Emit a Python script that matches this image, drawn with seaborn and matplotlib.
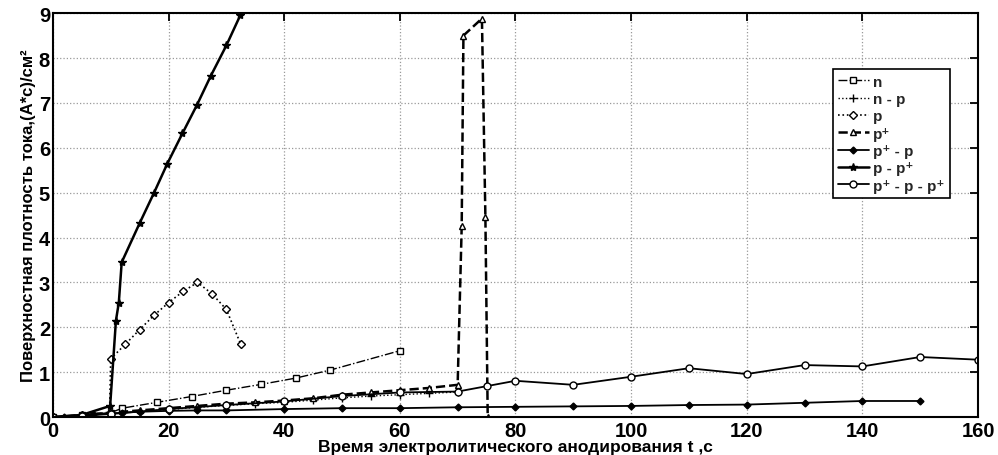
import matplotlib
matplotlib.use("Agg")
import matplotlib.pyplot as plt
import seaborn as sns
import numpy as np

sns.set_theme(style="white")
plt.rcParams['font.family'] = ['Liberation Sans', 'DejaVu Sans']
plt.rcParams['font.weight'] = 'bold'

# ---- data ----
n_x = [0, 5, 10, 12, 18, 24, 30, 36, 42, 48, 60]
n_y = [0, 0.05, 0.1, 0.2, 0.33, 0.46, 0.6, 0.73, 0.87, 1.05, 1.48]

np_x = [0, 5, 10, 15, 20, 25, 30, 35, 40, 45, 50, 55, 60, 65, 70]
np_y = [0, 0.03, 0.08, 0.12, 0.17, 0.22, 0.26, 0.3, 0.33, 0.38, 0.43, 0.47, 0.5, 0.53, 0.56]

p_x = [0, 5, 9.8, 10, 12.5, 15, 17.5, 20, 22.5, 25, 27.5, 30, 32.5]
p_y = [0, 0.05, 0.1, 1.3, 1.62, 1.95, 2.27, 2.55, 2.8, 3.0, 2.75, 2.4, 1.62]

pp_x = [0, 5, 10, 15, 20, 25, 30, 35, 40, 45, 50, 55, 60, 65, 70, 70.7, 71.0, 74.2, 74.8, 75.2]
pp_y = [0, 0.05, 0.1, 0.15, 0.2, 0.25, 0.3, 0.33, 0.37, 0.42, 0.5, 0.55, 0.6, 0.65, 0.72, 4.25, 8.5, 8.88, 4.45, 0]

ppp_x = [0, 2, 5, 7, 10, 12, 15, 20, 25, 30, 40, 50, 60, 70, 80, 90, 100, 110, 120, 130, 140, 150]
ppp_y = [0, 0.0, 0.03, 0.06, 0.08, 0.1, 0.12, 0.14, 0.15, 0.15, 0.18, 0.2, 0.2, 0.22, 0.23, 0.24, 0.25, 0.27, 0.28, 0.32, 0.36, 0.36]

ppplus_x = [0, 5, 9.9, 10.9, 11.4, 11.9, 15, 17.5, 19.8, 22.4, 24.9, 27.3, 30, 32.4]
ppplus_y = [0, 0.05, 0.25, 2.15, 2.55, 3.45, 4.32, 5.0, 5.65, 6.32, 6.95, 7.6, 8.28, 8.95]

pppp_x = [0, 5, 10, 20, 30, 40, 50, 60, 70, 75, 80, 90, 100, 110, 120, 130, 140, 150, 160]
pppp_y = [0, 0.03, 0.07, 0.18, 0.27, 0.35, 0.47, 0.55, 0.57, 0.69, 0.81, 0.72, 0.9, 1.09, 0.96, 1.16, 1.13, 1.34, 1.28]

labels = ['n', 'n - p', 'p', 'p⁺', 'p⁺ - p', 'p - p⁺', 'p⁺ - p - p⁺']

fig = plt.figure(figsize=(9.98, 4.56), dpi=100)
ax = fig.add_axes([0.053, 0.083, 0.927, 0.886])

series = [
    (n_x, n_y, dict(marker='s', linestyle='-.', lw=1.0, ms=5, mfc='white')),
    (np_x, np_y, dict(marker='+', linestyle=':', lw=1.0, ms=6)),
    (p_x, p_y, dict(marker='D', linestyle=':', lw=1.2, ms=4, mfc='white')),
    (pp_x, pp_y, dict(marker='^', linestyle='--', lw=1.8, ms=5, mfc='white')),
    (ppp_x, ppp_y, dict(marker='D', linestyle='-', lw=1.3, ms=3.5, mfc='black')),
    (ppplus_x, ppplus_y, dict(marker='*', linestyle='-', lw=1.8, ms=6, mfc='black')),
    (pppp_x, pppp_y, dict(marker='o', linestyle='-', lw=1.3, ms=5, mfc='white')),
]
for (xs, ys, st), lab in zip(series, labels):
    sns.lineplot(x=xs, y=ys, ax=ax, color='black', sort=False, estimator=None,
                 label=lab, marker=st['marker'], linestyle=st['linestyle'],
                 linewidth=st['lw'], markersize=st['ms'],
                 markerfacecolor=st.get('mfc', 'black'), markeredgecolor='black',
                 markeredgewidth=1.0)

ax.set_xlim(0, 160)
ax.set_ylim(0, 9)
ax.set_xticks(np.arange(0, 161, 20))
ax.set_yticks(np.arange(0, 10, 1))
ax.grid(True, linestyle=':', color='#999999', linewidth=0.9)
for s in ax.spines.values():
    s.set_color('black')
    s.set_linewidth(1.5)
ax.tick_params(direction='in', length=6, width=1.3, top=True, right=True,
               labelsize=14.5, colors='black')
ax.tick_params(axis='x', pad=3)
ax.tick_params(axis='y', pad=2)
for t in ax.get_xticklabels() + ax.get_yticklabels():
    t.set_fontweight('bold')

ax.set_xlabel('Время электролитического анодирования t ,c', fontsize=12.5,
              fontweight='bold', color='black', labelpad=-1)
ax.set_ylabel('Поверхностная плотность тока,(A*c)/cм²', fontsize=12,
              fontweight='bold', color='black', labelpad=2)

leg = ax.legend(loc='upper left', bbox_to_anchor=(0.843, 0.861), frameon=True,
                fancybox=False, edgecolor='black', handlelength=2.0,
                handletextpad=0.3, labelspacing=0.22, borderpad=0.35,
                borderaxespad=0,
                prop={'weight': 'bold', 'size': 11})
leg.get_frame().set_linewidth(1.2)
leg.get_frame().set_alpha(1)

fig.savefig('out.png', dpi=100, facecolor='white')
